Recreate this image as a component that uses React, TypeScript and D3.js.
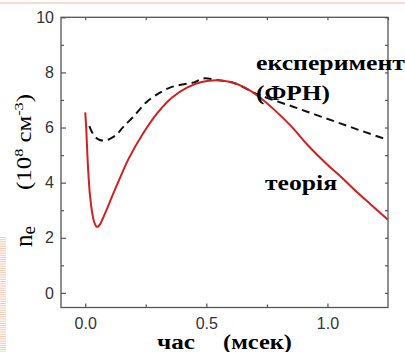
import React, { useEffect, useRef } from 'react'
import * as d3 from 'd3'

// theory curve (red), time in ms, ne in 10^8 cm^-3
const theoryTime = [0, 0.004, 0.009, 0.014, 0.02, 0.028, 0.036, 0.045, 0.052, 0.062, 0.075, 0.09, 0.11, 0.14, 0.18, 0.24, 0.3, 0.36, 0.42, 0.48, 0.54, 0.6, 0.66, 0.72, 0.78, 0.85, 0.92, 1.0, 1.06, 1.12, 1.18, 1.25]
const theoryNe = [6.55, 6.0, 5.0, 4.2, 3.5, 2.95, 2.6, 2.42, 2.4, 2.5, 2.75, 3.05, 3.48, 4.1, 4.88, 5.8, 6.55, 7.1, 7.45, 7.65, 7.72, 7.65, 7.45, 7.1, 6.65, 6.05, 5.35, 4.65, 4.18, 3.67, 3.2, 2.65]

// experiment (black dashed)
const expTime = [0.017, 0.03, 0.045, 0.06, 0.08, 0.1, 0.13, 0.16, 0.2, 0.25, 0.3, 0.35, 0.4, 0.45, 0.485, 0.55, 0.62, 0.7, 0.75, 0.85, 0.95, 1.05, 1.15, 1.25]
const expNe = [6.05, 5.8, 5.63, 5.55, 5.53, 5.58, 5.75, 6.05, 6.4, 6.9, 7.22, 7.45, 7.56, 7.64, 7.78, 7.72, 7.6, 7.25, 7.08, 6.78, 6.47, 6.16, 5.85, 5.55]

const xTickValues = [0, 0.5, 1.0]
const xMinorValues = [0.25, 0.75]
const xTopValues = [0, 0.25, 0.5, 0.75, 1.0, 1.25]
const yTickValues = [0, 2, 4, 6, 8, 10]
const yMinorValues = [1, 3, 5, 7, 9]
const yRightValues = [0, 1, 2, 3, 4, 5, 6, 7, 8, 9, 10]

const W = 405
const H = 352

export default function App() {
    const axRef = useRef<SVGGElement>(null)

    const x = d3.scaleLinear().domain([-0.1, 1.25]).range([61, 388])
    const y = d3.scaleLinear().domain([-0.53, 10]).range([307.5, 17.3])

    const theory = theoryTime.map((t, i) => [t, theoryNe[i]] as [number, number])
    const exp = expTime.map((t, i) => [t, expNe[i]] as [number, number])

    const line = d3.line<[number, number]>()
        .x(d => x(d[0]))
        .y(d => y(d[1]))
        .curve(d3.curveCatmullRom.alpha(0.5))

    useEffect(() => {
        const g = d3.select(axRef.current)
        g.selectAll('*').remove()
        const bottom = y(-0.53)
        const top = y(10)

        // bottom axis
        g.append('g').attr('transform', `translate(0,${bottom})`)
            .call(d3.axisBottom(x).tickValues(xTickValues).tickSize(-4).tickPadding(10.5).tickFormat(d3.format('.1f')))
        g.append('g').attr('transform', `translate(0,${bottom})`)
            .call(d3.axisBottom(x).tickValues(xMinorValues).tickSize(-3).tickFormat(() => ''))
        // top
        g.append('g').attr('transform', `translate(0,${top})`)
            .call(d3.axisTop(x).tickValues(xTopValues).tickSize(-3).tickFormat(() => ''))
        // left
        g.append('g').attr('transform', `translate(61,0)`)
            .call(d3.axisLeft(y).tickValues(yTickValues).tickSize(-5).tickPadding(7).tickFormat(d3.format('d')))
        g.append('g').attr('transform', `translate(61,0)`)
            .call(d3.axisLeft(y).tickValues(yMinorValues).tickSize(-3).tickFormat(() => ''))
        // right
        g.append('g').attr('transform', `translate(388,0)`)
            .call(d3.axisRight(y).tickValues(yRightValues).tickSize(-3).tickFormat(() => ''))

        g.selectAll('.domain').remove()
        g.selectAll('.tick line').attr('stroke', '#555').attr('stroke-width', 1.2)
        g.selectAll('.tick text')
            .attr('fill', '#333')
            .style('font-family', '"Liberation Sans", Arial, sans-serif')
            .style('font-size', '16px')
    }, [])

    const serif = '"Liberation Serif", "Times New Roman", serif'

    return (
        <svg width={W} height={H} style={{ position: 'absolute', left: 0, top: 0, background: '#fff' }}>
            {/* slide decorations */}
            <rect x={0} y={2} width={W} height={2} fill="#f7dccd" />
            {d3.range(237, H, 2.2).map((yy, i) => (
                <rect key={i} x={0} y={yy} width={6} height={1.1} fill="#f3cdb8" />
            ))}

            <defs>
                <clipPath id="plot">
                    <rect x={61} y={17.3} width={327} height={290.2} />
                </clipPath>
            </defs>

            <g clipPath="url(#plot)">
                <path d={line(exp) || ''} fill="none" stroke="#111" strokeWidth={2} strokeDasharray="8,5" />
                <path d={line(theory) || ''} fill="none" stroke="#d21f1f" strokeWidth={2} />
            </g>

            <rect x={61} y={17.3} width={327} height={290.2} fill="none" stroke="#555" strokeWidth={1.3} />
            <g ref={axRef} />

            {/* annotations */}
            <text x={256} y={70} fontFamily={serif} fontWeight="bold" fontSize={20} textLength={149} lengthAdjust="spacingAndGlyphs">експеримент</text>
            <text x={256} y={100} fontFamily={serif} fontWeight="bold" fontSize={20} textLength={74} lengthAdjust="spacingAndGlyphs">(ФРН)</text>
            <text x={265} y={190} fontFamily={serif} fontWeight="bold" fontSize={20} textLength={72} lengthAdjust="spacingAndGlyphs">теорія</text>

            {/* axis titles */}
            <text x={157} y={349} fontFamily={serif} fontWeight="bold" fontSize={20} textLength={38} lengthAdjust="spacingAndGlyphs">час</text>
            <text x={223} y={349} fontFamily={serif} fontWeight="bold" fontSize={20} textLength={69} lengthAdjust="spacingAndGlyphs">(мсек)</text>

            <g transform="rotate(-90)">
                <text x={-247} y={32} fontFamily={serif} fontSize={25}>
                    n<tspan fontSize={19} dy={3}>e</tspan>
                </text>
                <text x={-190} y={31} fontFamily={serif} fontSize={20} textLength={96} lengthAdjust="spacingAndGlyphs">
                    (10<tspan fontSize={13} dy={-8}>8</tspan><tspan dy={8}> см</tspan><tspan fontSize={13} dy={-8}>-3</tspan><tspan dy={8}>)</tspan>
                </text>
            </g>
        </svg>
    )
}
